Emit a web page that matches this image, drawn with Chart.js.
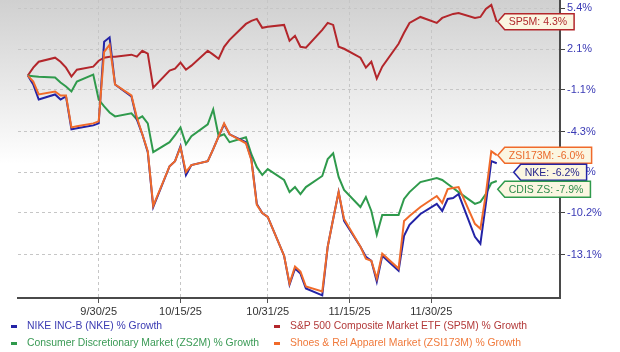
<!DOCTYPE html>
<html>
<head>
<meta charset="utf-8">
<script src="https://cdn.jsdelivr.net/npm/chart.js@4.4.1/dist/chart.umd.min.js"></script>
<style>
  html, body { margin: 0; padding: 0; background: #fff; }
  #wrap { position: relative; width: 620px; height: 352px; font-family: "Liberation Sans", Arial, sans-serif; }
  #legend { position: absolute; left: 0; top: 0; width: 620px; height: 352px; pointer-events: none; }
  .item { position: absolute; white-space: nowrap; font-size: 10.4px; line-height: 14px; }
  .item i { position: absolute; left: -16px; top: 6px; width: 6px; height: 3px; }
</style>
</head>
<body>
<div id="wrap">
  <canvas id="chart" width="620" height="352"></canvas>
  <div id="legend"></div>
</div>
<script>
// trading days shown on the chart
const dates = [
  '9/17/25', '9/18/25', '9/19/25', '9/22/25', '9/23/25', '9/24/25', '9/25/25', '9/26/25', '9/29/25', '9/30/25',
  '10/1/25', '10/2/25', '10/3/25', '10/6/25', '10/7/25', '10/8/25', '10/9/25', '10/10/25', '10/13/25', '10/14/25',
  '10/15/25', '10/16/25', '10/17/25', '10/20/25', '10/21/25', '10/22/25', '10/23/25', '10/24/25', '10/27/25', '10/28/25',
  '10/29/25', '10/30/25', '10/31/25', '11/3/25', '11/4/25', '11/5/25', '11/6/25', '11/7/25', '11/10/25', '11/11/25',
  '11/12/25', '11/13/25', '11/14/25', '11/17/25', '11/18/25', '11/19/25', '11/20/25', '11/21/25', '11/24/25', '11/25/25',
  '11/26/25', '11/28/25', '12/1/25', '12/2/25', '12/3/25', '12/4/25', '12/5/25', '12/8/25', '12/9/25', '12/10/25',
  '12/11/25', '12/12/25'
];

// % growth since 9/17/25
const nke = [0, -0.70, -1.86, -1.47, -1.86, -1.62, -4.13, -4.05, -3.83, -3.68,
  2.68, 3.04, -0.70, -1.62, -3.38, -4.50, -5.83, -9.79, -6.86, -6.49,
  -5.39, -7.50, -6.78, -6.49, -5.61, -4.65, -3.75, -4.50, -5.09, -6.34,
  -9.57, -10.21, -10.49, -13.17, -15.11, -14.04, -14.38, -15.37, -15.83, -12.55,
  -10.63, -8.73, -10.77, -12.55, -13.24, -13.51, -14.91, -13.17, -14.18, -11.80,
  -11.04, -10.28, -9.57, -10.07, -9.22, -9.15, -8.87, -11.87, -12.35, -9.57,
  -6.49, -6.64];
const sp5m = [0, 0.62, 1.09, 1.41, 1.09, 0.62, -0.08, 0.46, 0.70, 1.17,
  1.41, 1.49, 1.49, 1.65, 1.49, 1.96, 1.73, -0.94, 0.39, 0.54,
  1.02, 0.46, 0.78, 1.96, 1.65, 1.33, 2.28, 2.84, 4.13, 4.38,
  4.54, 3.81, 3.89, 4.05, 2.76, 3.16, 2.28, 2.20, 3.65, 4.21,
  4.05, 2.28, 2.12, 1.41, 0.62, 1.09, -0.24, 0.70, 2.52, 3.41,
  4.21, 4.70, 4.21, 4.62, 4.79, 4.95, 5.03, 4.62, 4.70, 5.36,
  5.69, 4.30];
const cdis = [0, -0.05, -0.10, -0.16, -0.55, -0.86, -1.24, -0.47, 0.07, -1.86,
  -2.39, -2.85, -3.15, -2.92, -3.38, -3.15, -3.68, -5.83, -5.09, -4.57,
  -3.98, -5.24, -4.65, -3.75, -2.62, -4.65, -4.50, -5.09, -4.72, -5.98,
  -6.93, -7.50, -7.07, -7.86, -8.73, -8.37, -8.87, -8.37, -7.57, -6.34,
  -5.91, -7.64, -8.58, -9.79, -9.08, -10.07, -11.73, -10.35, -10.35, -9.22,
  -8.73, -8.01, -7.72, -7.86, -8.15, -8.44, -8.73, -9.57, -9.43, -8.87,
  -8.08, -7.93];
const zsi = [0, -0.47, -1.47, -1.24, -1.55, -1.55, -3.98, -3.90, -3.68, -3.53,
  1.88, 2.44, -0.70, -1.55, -3.23, -4.50, -5.76, -9.71, -6.86, -6.49,
  -5.46, -7.28, -6.78, -6.49, -5.61, -4.65, -3.68, -4.50, -5.17, -6.42,
  -9.64, -10.21, -10.49, -13.17, -15.04, -13.91, -14.24, -15.24, -15.57, -12.55,
  -10.63, -8.73, -10.63, -12.55, -13.37, -13.51, -14.71, -13.03, -14.04, -10.77,
  -10.42, -9.79, -9.01, -9.50, -8.51, -8.44, -8.37, -10.97, -11.32, -8.87,
  -5.76, -6.05];

const seriesNames = [
  'NIKE INC-B (NKE) % Growth',
  'S&P 500 Composite Market ETF (SP5M) % Growth',
  'Consumer Discretionary Market (ZS2M) % Growth',
  'Shoes & Rel Apparel Market (ZSI173M) % Growth'
];
const tagLabels = ['NKE: -6.2%', 'SP5M: 4.3%', 'CDIS ZS: -7.9%', 'ZSI173M: -6.0%'];
const xTickDates = ['9/30/25', '10/15/25', '10/31/25', '11/15/25', '11/30/25'];
const yTickValues = [5.4, 2.1, -1.1, -4.3, -7.3, -10.2, -13.1];

// helpers
const toDay = s => {
  const [m, d, y] = s.split('/').map(Number);
  return Date.UTC(2000 + y, m - 1, d) / 864e5;
};
const day0 = toDay(dates[0]);
const xOf = s => toDay(s) - day0;
const ratio = v => 1 + v / 100;   // growth is plotted on a log scale of the price ratio

const styles = [
  { line: '#2323a6', text: '#3a3ab2', tag: '#26268c', order: 1, nudge: 16 },
  { line: '#b3262b', text: '#b33a3a', tag: '#b0282c', order: 3, nudge: 0 },
  { line: '#2f9a4c', text: '#3a9a55', tag: '#2e8c4c', order: 2, nudge: 0 },
  { line: '#f06a2a', text: '#f07a3c', tag: '#ea6a2c', order: 0, nudge: 0 }
];
const values = [nke, sp5m, cdis, zsi];

const datasets = values.map((vals, i) => ({
  label: seriesNames[i],
  tag: tagLabels[i],
  nudge: styles[i].nudge,
  data: vals.map((v, j) => ({ x: xOf(dates[j]), y: ratio(v) })),
  borderColor: styles[i].line,
  tagColor: styles[i].tag,
  borderWidth: 2,
  pointRadius: 0,
  tension: 0,
  order: styles[i].order
}));

const bgPlugin = {
  id: 'bg',
  beforeDraw(chart) {
    const { ctx, chartArea: a } = chart;
    const g = ctx.createLinearGradient(0, a.top, 0, a.bottom);
    g.addColorStop(0, '#d0d0d0');
    g.addColorStop(0.45, '#f6f6f6');
    g.addColorStop(0.55, '#ffffff');
    ctx.save();
    ctx.fillStyle = g;
    ctx.fillRect(0, a.top, a.right, a.bottom - a.top);
    ctx.restore();
  }
};

const tagPlugin = {
  id: 'tags',
  afterDraw(chart) {
    const ctx = chart.ctx;
    const items = chart.data.datasets.map((ds, i) => {
      const pts = chart.getDatasetMeta(i).data;
      const p = pts[pts.length - 1];
      return { ds, x: p.x, y: p.y };
    }).sort((a, b) => a.y - b.y);
    let prev = -Infinity;
    items.forEach(it => { it.cy = Math.max(it.y, prev + 17); prev = it.cy; });
    ctx.save();
    ctx.font = '10.5px "Liberation Sans", Arial, sans-serif';
    ctx.textBaseline = 'middle';
    items.forEach(it => {
      const h = 16, tip = it.x + 1 + it.ds.nudge;
      const w = ctx.measureText(it.ds.tag).width + 18;
      const top = it.cy - h / 2, bot = it.cy + h / 2;
      ctx.beginPath();
      ctx.moveTo(tip, it.cy);
      ctx.lineTo(tip + 7, top);
      ctx.lineTo(tip + w, top);
      ctx.lineTo(tip + w, bot);
      ctx.lineTo(tip + 7, bot);
      ctx.closePath();
      ctx.fillStyle = '#fbf6e1';
      ctx.fill();
      ctx.lineWidth = 1.5;
      ctx.strokeStyle = it.ds.borderColor;
      ctx.stroke();
      ctx.fillStyle = it.ds.tagColor;
      ctx.fillText(it.ds.tag, tip + 11, it.cy + 0.5);
    });
    ctx.restore();
  }
};

new Chart(document.getElementById('chart'), {
  type: 'line',
  data: { datasets },
  plugins: [bgPlugin, tagPlugin],
  options: {
    responsive: false,
    animation: false,
    layout: { padding: { left: 18, top: 0, right: 0, bottom: 0 } },
    plugins: { legend: { display: false }, tooltip: { enabled: false } },
    scales: {
      x: {
        type: 'linear',
        min: -1.8,
        max: 97.6,
        afterBuildTicks: s => { s.ticks = xTickDates.map(d => ({ value: xOf(d) })); },
        afterFit: s => { s.height = 54; s.paddingLeft = 0; s.paddingRight = 0; },
        ticks: {
          autoSkip: false, maxRotation: 0, padding: 2,
          color: '#333',
          font: { family: '"Liberation Sans", Arial, sans-serif', size: 11 },
          callback: (v, i) => xTickDates[i]
        },
        grid: { color: '#c6c6c6', tickColor: '#555', tickLength: 5, tickBorderDash: [] },
        border: { display: true, color: '#4a4a4a', width: 2, dash: [3, 3] }
      },
      y: {
        type: 'logarithmic',
        position: 'right',
        min: 0.841,
        max: 1.061,
        afterBuildTicks: s => { s.ticks = yTickValues.map(v => ({ value: ratio(v) })); },
        afterFit: s => { s.width = 60; s.paddingTop = 0; s.paddingBottom = 0; },
        ticks: {
          padding: 2,
          color: '#3a3ab5',
          font: { family: '"Liberation Sans", Arial, sans-serif', size: 11 },
          callback: (v, i) => yTickValues[i].toFixed(1) + '%'
        },
        grid: { color: '#c6c6c6', tickColor: '#444', tickLength: 5, tickBorderDash: [] },
        border: { display: true, color: '#4a4a4a', width: 2, dash: [3, 3] }
      }
    }
  }
});

// legend, two columns as in the original
const legend = document.getElementById('legend');
const slots = [[27, 319], [290, 319], [27, 336], [290, 336]];
seriesNames.forEach((name, i) => {
  const el = document.createElement('div');
  el.className = 'item';
  el.style.left = slots[i][0] + 'px';
  el.style.top = slots[i][1] + 'px';
  el.style.color = styles[i].text;
  el.innerHTML = '<i style="background:' + styles[i].line + '"></i>';
  el.appendChild(document.createTextNode(name));
  legend.appendChild(el);
});
</script>
</body>
</html>
